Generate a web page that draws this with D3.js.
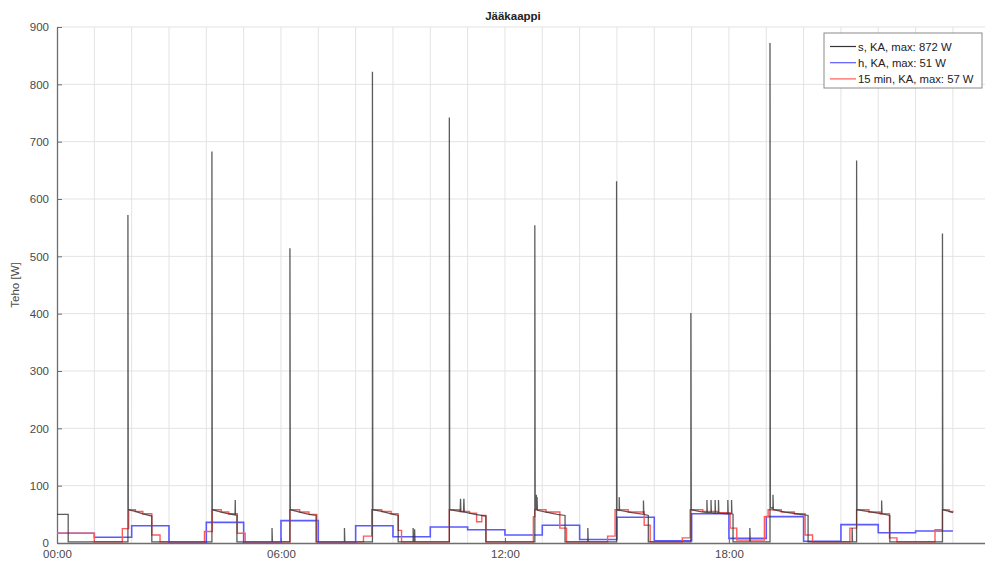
<!DOCTYPE html>
<html><head><meta charset="utf-8">
<script src="https://cdn.jsdelivr.net/npm/d3@7"></script>
<style>body{margin:0;background:#fff}svg{display:block;font-family:"Liberation Sans",Arial,sans-serif}</style>
</head><body>
<svg id="c" width="985" height="564"></svg>
<script>
// ---- data (time in hours, power in W) ----
const title = "Jääkaappi";
const yLabel = "Teho [W]";
const yTicks = [0,100,200,300,400,500,600,700,800,900];
const xTicks = [0,6,12,18];
const xTickLabels = ["00:00","06:00","12:00","18:00"];
const legendLabels = ["s, KA, max: 872 W","h, KA, max: 51 W","15 min, KA, max: 57 W"];

// 1 s resolution (simplified)
const secSeries = [
 [0,50],[0.30,50],[0.30,2],[1.90,2],[1.90,572],[1.91,58],[2.10,55],[2.30,51],[2.54,47],[2.54,2],
 [4.15,2],[4.15,683],[4.16,58],[4.40,54],[4.60,51],[4.77,49],[4.775,75],[4.78,49],[4.82,48],[4.82,2],
 [5.76,2],[5.76,26],[5.77,2],
 [6.24,2],[6.24,514],[6.25,58],[6.50,54],[6.75,50],[6.94,48],[6.94,2],
 [7.70,2],[7.70,26],[7.71,2],
 [8.45,2],[8.45,822],[8.46,58],[8.70,55],[8.95,51],[9.14,48],[9.14,2],
 [9.54,2],[9.54,26],[9.55,2],[9.58,2],[9.58,24],[9.59,2],
 [10.51,2],[10.51,742],[10.52,58],[10.80,55],[10.81,77],[10.82,55],[10.89,54],[10.90,77],[10.91,54],[11.20,50],[11.49,47],[11.49,2],
 [12.80,2],[12.80,554],[12.81,60],[12.82,84],[12.83,58],[12.84,84],[12.85,58],[12.86,80],[12.87,57],[13.10,54],[13.40,50],[13.61,48],[13.61,2],
 [14.22,2],[14.22,26],[14.23,2],
 [14.99,2],[14.99,631],[15.00,58],[15.06,57],[15.06,80],[15.07,57],[15.40,53],[15.71,50],[15.71,74],[15.72,50],[15.84,48],[15.84,2],
 [16.98,2],[16.98,401],[16.99,58],[17.20,55],[17.41,53],[17.41,75],[17.42,53],[17.52,53],[17.52,75],[17.53,53],[17.63,52],[17.63,75],[17.64,52],[17.72,52],[17.72,75],[17.73,52],[17.97,51],[17.97,75],[17.98,51],[18.07,51],[18.07,75],[18.08,51],[18.11,50],[18.11,2],
 [18.56,2],[18.56,26],[18.57,2],
 [19.10,2],[19.10,872],[19.11,62],[19.18,60],[19.18,84],[19.19,58],[19.50,54],[19.80,51],[20.12,48],[20.12,2],
 [21.30,2],[21.30,26],[21.31,2],
 [21.42,2],[21.42,667],[21.43,58],[21.70,55],[22.09,51],[22.09,74],[22.10,51],[22.31,48],[22.31,2],
 [23.72,2],[23.72,540],[23.73,58],[23.90,55],[24.0,53]
];

// 15 min averages (step points)
const quarterSeries = [
 [0,17],[1.0,2],[1.75,25],[1.92,58],[2.10,55],[2.30,51],[2.54,14],[2.76,2],
 [3.95,20],[4.16,58],[4.40,54],[4.60,51],[4.83,17],[5.04,2],
 [6.24,58],[6.50,54],[6.75,50],[6.96,2],
 [8.21,12],[8.43,58],[8.70,55],[8.95,51],[9.14,22],[9.23,2],
 [10.51,58],[10.80,55],[11.05,52],[11.24,37],[11.38,48],[11.49,2],
 [12.76,46],[12.80,58],[13.10,54],[13.47,26],[13.65,2],
 [14.75,12],[14.95,58],[15.30,54],[15.73,31],[15.89,2],
 [16.75,9],[16.96,58],[17.30,55],[17.70,53],[18.03,26],[18.21,5],
 [18.95,46],[19.05,58],[19.40,54],[19.75,51],[20.04,14],[20.24,2],
 [21.24,26],[21.42,58],[21.75,54],[22.05,51],[22.30,9],[22.50,2],
 [23.52,23],[23.72,58],[23.90,55],[24.0,53]
];

// hourly averages, hours 0..23
const hourValues = [17,10,30,0,36,0,39,0,30,11,28,23,14,31,6,45,4,51,8,46,3,32,18,21];

// ---- drawing ----
const svg = d3.select("#c");
const x = d3.scaleLinear().domain([0,25]).range([57, 57 + 25*37.33]);
const y = d3.scaleLinear().domain([0,900]).range([543,27]);
const gridColor = "#e3e3e3", axisColor = "#6e6e6e", textColor = "#4a4a4a";

// grid
svg.append("g").selectAll("line").data(d3.range(1,25)).join("line")
  .attr("x1",d=>x(d)).attr("x2",d=>x(d)).attr("y1",y(0)).attr("y2",y(900))
  .attr("stroke",gridColor).attr("stroke-width",1);
svg.append("g").selectAll("line").data(yTicks.slice(1)).join("line")
  .attr("x1",x(0)).attr("x2",985).attr("y1",d=>y(d)).attr("y2",d=>y(d))
  .attr("stroke",gridColor).attr("stroke-width",1);

// axes
const yAxis = d3.axisLeft(y).tickValues(yTicks).tickSizeInner(-5).tickSizeOuter(0).tickPadding(8);
const gy = svg.append("g").attr("transform",`translate(${x(0)},0)`).call(yAxis);
const xAxis = d3.axisBottom(x).tickValues(xTicks).tickFormat((d,i)=>xTickLabels[i]).tickSizeInner(-5).tickSizeOuter(0).tickPadding(7);
const gx = svg.append("g").attr("transform",`translate(0,${y(0)})`).call(xAxis);
[gx,gy].forEach(g=>{
  g.select(".domain").attr("stroke",axisColor).attr("stroke-width",1.3);
  g.selectAll(".tick line").attr("stroke",axisColor);
  g.selectAll("text").attr("fill",textColor).attr("font-size","11.5px")
   .attr("font-family",'"Liberation Sans",Arial,sans-serif');
});

// lines
const hourPts = hourValues.map((v,i)=>[i,v]).concat([[24,hourValues[23]]]);
const stepLine = d3.line().x(d=>x(d[0])).y(d=>y(d[1])).curve(d3.curveStepAfter);
const linLine = d3.line().x(d=>x(d[0])).y(d=>y(d[1]));
const colBlue = "#5a5aff", colRed = "#ff5a5a", colBlack = "#333333";
svg.append("path").attr("d",stepLine(hourPts)).attr("fill","none").attr("stroke",colBlue).attr("stroke-width",1.6);
svg.append("path").attr("d",stepLine(quarterSeries)).attr("fill","none").attr("stroke",colRed).attr("stroke-width",1.4);
svg.append("path").attr("d",linLine(secSeries)).attr("fill","none").attr("stroke",colBlack).attr("stroke-width",1.3).attr("opacity",0.8);

// title & label
svg.append("text").attr("x",513).attr("y",20).attr("text-anchor","middle")
  .attr("font-size","11.5px").attr("font-weight","bold").attr("fill","#222").text(title);
svg.append("text").attr("transform","translate(19,285) rotate(-90)").attr("text-anchor","middle")
  .attr("font-size","11.5px").attr("fill",textColor).text(yLabel);

// legend
const lg = svg.append("g");
lg.append("rect").attr("x",824).attr("y",33).attr("width",158).attr("height",55)
  .attr("fill","#fff").attr("stroke","#8a8a8a").attr("stroke-width",1);
const legCols = [colBlack, colBlue, colRed];
legendLabels.forEach((t,i)=>{
  const yy = 46.5 + i*16.2;
  lg.append("line").attr("x1",830).attr("x2",856).attr("y1",yy).attr("y2",yy)
    .attr("stroke",legCols[i]).attr("stroke-width",1.2);
  lg.append("text").attr("x",858).attr("y",yy+4).attr("font-size","11.3px").attr("fill","#222").text(t);
});
</script>
</body></html>
